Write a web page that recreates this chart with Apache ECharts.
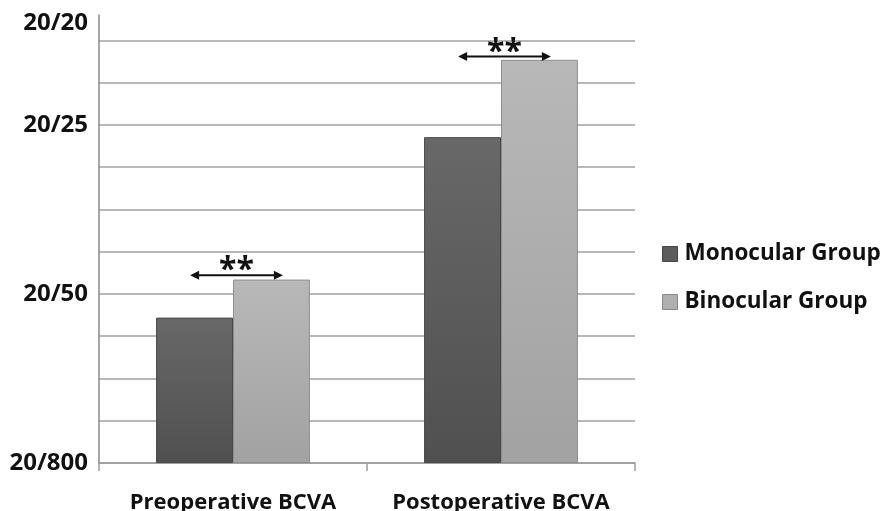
<!DOCTYPE html>
<html>
<head>
<meta charset="utf-8">
<script src="https://cdn.jsdelivr.net/npm/echarts@6/dist/echarts.min.js"></script>
<style>html,body{margin:0;padding:0;background:#fff}#c{width:884px;height:511px}</style>
</head>
<body>
<div id="c"></div>
<script>
const categories = ['Preoperative BCVA', 'Postoperative BCVA'];
const seriesNames = ['Monocular Group', 'Binocular Group'];
const monocular = [3.44, 7.71];
const binocular = [4.34, 9.54];
const tickLabels = {0: '20/800', 4: '20/50', 8: '20/25', 10: '20/20'};
const significance = [[0, 4.44, '**'], [1, 9.62, '**']];

const FONT = 'Open Sans';
const chart = echarts.init(document.getElementById('c'), null, {renderer: 'canvas'});

function grad(top, bottom) {
  return new echarts.graphic.LinearGradient(0, 0, 0, 1, [
    {offset: 0, color: top}, {offset: 1, color: bottom}
  ]);
}

chart.setOption({
  animation: false,
  backgroundColor: '#fff',
  grid: {left: 99, right: 249, top: 15, bottom: 48, containLabel: false, outerBoundsMode: 'none'},
  legend: {
    orient: 'vertical',
    left: 662,
    top: 242,
    padding: 0,
    itemWidth: 15,
    itemHeight: 15,
    itemGap: 24,
    icon: 'rect',
    textStyle: {fontFamily: FONT, fontWeight: 'bold', fontSize: 22.5, color: '#111', lineHeight: 24, padding: [0, 0, 0, 2]},
    data: [
      {name: seriesNames[0], itemStyle: {color: '#5c5c5c', borderColor: '#444', borderWidth: 1}},
      {name: seriesNames[1], itemStyle: {color: '#b0b0b0', borderColor: '#888', borderWidth: 1}}
    ]
  },
  xAxis: {
    type: 'category',
    data: categories,
    axisLine: {lineStyle: {color: '#9a9a9a', width: 1.5}},
    axisTick: {show: true, interval: 0, length: 8, alignWithLabel: false, lineStyle: {color: '#9a9a9a', width: 1.5}},
    axisLabel: {interval: 0, hideOverlap: false, fontFamily: FONT, fontWeight: 'bold', fontSize: 22, color: '#111', margin: 27, lineHeight: 26},
    splitLine: {show: false}
  },
  yAxis: {
    type: 'value',
    min: 0,
    max: 10.6,
    interval: 1,
    axisLine: {show: true, lineStyle: {color: '#8a8a8a', width: 1.5}},
    axisTick: {show: false},
    axisLabel: {
      fontFamily: FONT, fontWeight: 'bold', fontSize: 24, color: '#111', margin: 11,
      showMaxLabel: false,
      formatter: v => tickLabels[v] === undefined ? '' : (v === 10 ? '{up|' + tickLabels[v] + '}' : tickLabels[v]),
      rich: {up: {fontFamily: FONT, fontWeight: 'bold', fontSize: 24, color: '#111', padding: [0, 0, 34, 0]}}
    },
    splitLine: {show: true, showMaxLine: false, lineStyle: {color: '#a0a0a0', width: 1.5}}
  },
  series: [
    {
      name: seriesNames[0], type: 'bar', data: monocular,
      barWidth: '28.7%', barGap: '0%',
      itemStyle: {color: grad('#686868', '#505050'), borderColor: '#474747', borderWidth: 1}
    },
    {
      name: seriesNames[1], type: 'bar', data: binocular,
      barWidth: '28.7%', barGap: '0%',
      itemStyle: {color: grad('#b8b8b8', '#a2a2a2'), borderColor: '#8e8e8e', borderWidth: 1}
    },
    {
      type: 'custom',
      data: significance,
      silent: true,
      z: 10,
      renderItem: function (params, api) {
        const p = api.coord([api.value(0), api.value(1)]);
        const band = api.size([1, 0])[0];
        const half = band * 0.173;
        const cx = p[0] + band * 0.013;
        const y = p[1];
        const x1 = cx - half, x2 = cx + half;
        const ah = 9, aw = 4.5;
        const st = {fill: '#111', stroke: null};
        return {
          type: 'group',
          children: [
            {type: 'line', shape: {x1: x1 + 4, y1: y, x2: x2 - 4, y2: y}, style: {stroke: '#111', lineWidth: 2}},
            {type: 'polygon', shape: {points: [[x1, y], [x1 + ah, y - aw], [x1 + ah, y + aw]]}, style: st},
            {type: 'polygon', shape: {points: [[x2, y], [x2 - ah, y - aw], [x2 - ah, y + aw]]}, style: st},
            {type: 'text', style: {text: significance[params.dataIndex][2], x: cx, y: y + 12, align: 'center', verticalAlign: 'bottom',
              font: 'bold 32px "Open Sans"', fill: '#111'}}
          ]
        };
      }
    }
  ]
});
</script>
</body>
</html>
